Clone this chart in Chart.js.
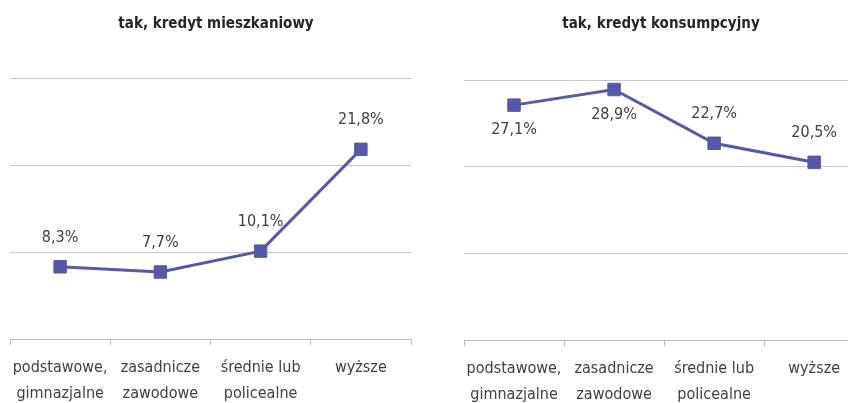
<!DOCTYPE html>
<html>
<head>
<meta charset="utf-8">
<script src="https://cdn.jsdelivr.net/npm/chart.js@4/dist/chart.umd.min.js"></script>
<style>
html,body{margin:0;padding:0;background:#fff;overflow:hidden;width:848px;height:403px;}
.box{position:absolute;top:0;height:403px;}
</style>
</head>
<body>
<div class="box" style="left:0;width:424px;"><canvas id="c1" width="424" height="403"></canvas></div>
<div class="box" style="left:424px;width:450px;"><canvas id="c2" width="450" height="403"></canvas></div>
<script>
const categories = [['podstawowe,', 'gimnazjalne'], ['zasadnicze', 'zawodowe'], ['średnie lub', 'policealne'], 'wyższe'];
const titleMortgage = 'tak, kredyt mieszkaniowy';
const titleConsumer = 'tak, kredyt konsumpcyjny';
const mortgageValues = [8.3, 7.7, 10.1, 21.8];
const consumerValues = [27.1, 28.9, 22.7, 20.5];
const mortgageLabelPos = ['above', 'above', 'above', 'above'];
const consumerLabelPos = ['below', 'below', 'above', 'above'];
const yTicks = [0, 10, 20, 30];

const FONT = '"DejaVu Sans Condensed", "Liberation Sans Narrow", sans-serif';
const COLOR = '#5459a8';
const TEXT = '#404040';

const labelPlugin = {
  id: 'valueLabels',
  afterDatasetsDraw(chart, args, opts) {
    const ctx = chart.ctx;
    const meta = chart.getDatasetMeta(0);
    const vals = chart.data.datasets[0].data;
    ctx.save();
    ctx.font = '16px ' + FONT;
    ctx.fillStyle = TEXT;
    ctx.textAlign = 'center';
    ctx.textBaseline = 'middle';
    meta.data.forEach((pt, i) => {
      const txt = vals[i].toFixed(1).replace('.', ',') + '%';
      const dy = opts.pos[i] === 'above' ? -29 : 25;
      ctx.fillText(txt, pt.x, pt.y + dy);
    });
    ctx.restore();
  }
};

function makeChart(id, title, values, pos, pad, xHeight, titlePad, yWidth, rWidth) {
  return new Chart(document.getElementById(id), {
    type: 'line',
    data: {
      labels: categories,
      datasets: [{
        data: values,
        borderColor: COLOR,
        backgroundColor: COLOR,
        borderWidth: 3,
        pointStyle: 'rect',
        pointRadius: 8.8,
        pointBorderWidth: 1,
        pointHoverRadius: 8.8,
        tension: 0,
        fill: false
      }]
    },
    options: {
      responsive: false,
      animation: false,
      events: [],
      layout: { padding: pad },
      plugins: {
        legend: { display: false },
        tooltip: { enabled: false },
        title: {
          display: true,
          text: title,
          color: '#262626',
          font: { family: FONT, size: 15, weight: 'bold', lineHeight: 1.2 },
          padding: titlePad
        },
        valueLabels: { pos: pos }
      },
      scales: {
        x: {
          offset: true,
          grid: { offset: true, drawOnChartArea: false, drawTicks: true, tickLength: 6, color: '#bfbfbf' },
          border: { display: true, color: '#bfbfbf', width: 1 },
          ticks: { color: TEXT, font: { family: FONT, size: 16, lineHeight: 1.6 }, padding: 10, maxRotation: 0, autoSkip: false },
          afterFit(s) { s.height = xHeight; }
        },
        y: {
          min: yTicks[0],
          max: yTicks[yTicks.length - 1],
          afterBuildTicks(s) { s.ticks = yTicks.map(v => ({ value: v })); },
          ticks: { display: false },
          grid: { color: '#c8c8c8', drawTicks: false, lineWidth: 1 },
          border: { display: false },
          afterFit(s) { s.width = yWidth; }
        },
        yr: {
          position: 'right',
          display: rWidth > 0,
          ticks: { display: false },
          grid: { display: false, drawTicks: false },
          border: { display: false },
          afterFit(s) { s.width = rWidth; }
        }
      }
    },
    plugins: [labelPlugin]
  });
}

makeChart('c1', titleMortgage, mortgageValues, mortgageLabelPos, { left: 10, right: 2, top: 0, bottom: 0 }, 64, { top: 15, bottom: 45 }, 0, 11);
makeChart('c2', titleConsumer, consumerValues, consumerLabelPos, { left: 24, right: 0, top: 0, bottom: 0 }, 63, { top: 15, bottom: 47 }, 16, 0);
</script>
</body>
</html>
